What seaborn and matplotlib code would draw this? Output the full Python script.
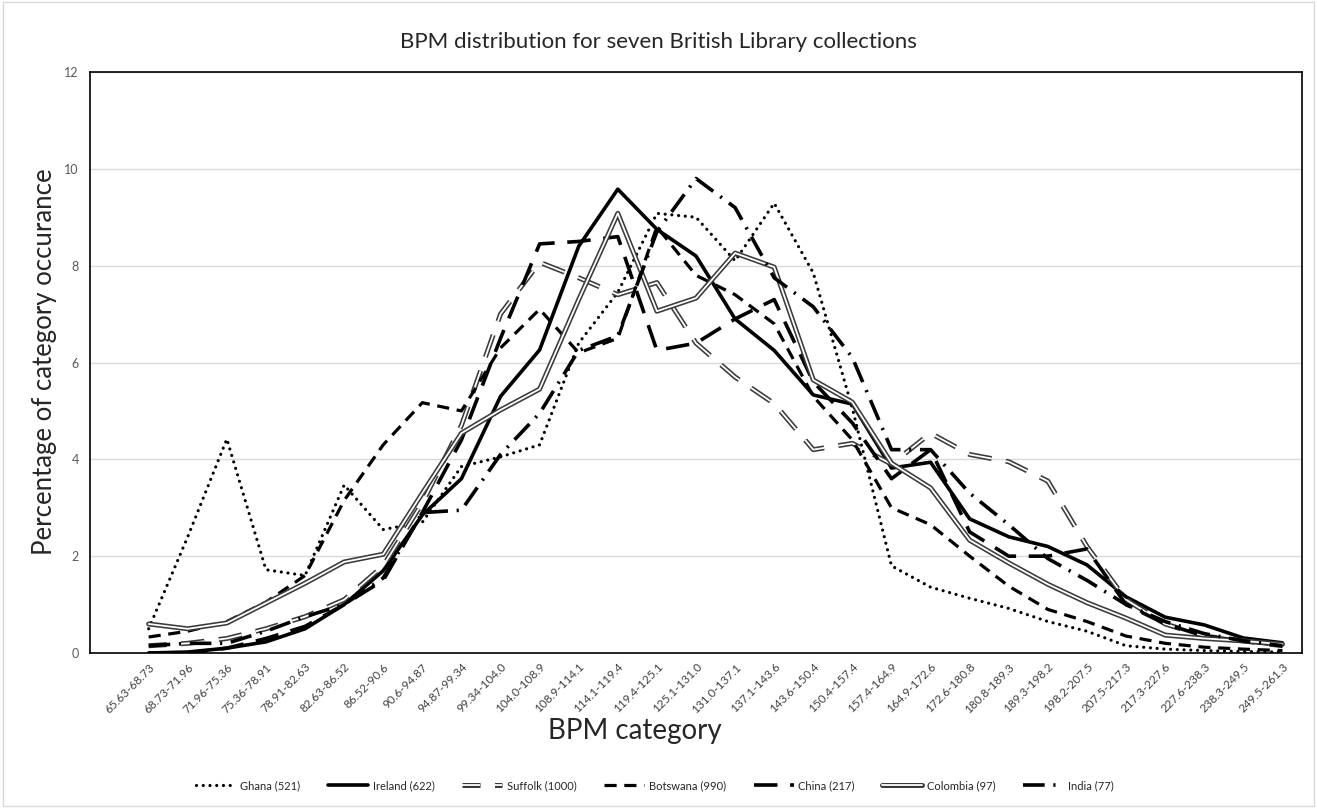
import numpy as np
import matplotlib
matplotlib.use("Agg")
import matplotlib.pyplot as plt
import matplotlib.patheffects as pe
import seaborn as sns

# BPM categories (x axis)
categories = ["65.63-68.73", "68.73-71.96", "71.96-75.36", "75.36-78.91", "78.91-82.63",
              "82.63-86.52", "86.52-90.6", "90.6-94.87", "94.87-99.34", "99.34-104.0",
              "104.0-108.9", "108.9-114.1", "114.1-119.4", "119.4-125.1", "125.1-131.0",
              "131.0-137.1", "137.1-143.6", "143.6-150.4", "150.4-157.4", "157.4-164.9",
              "164.9-172.6", "172.6-180.8", "180.8-189.3", "189.3-198.2", "198.2-207.5",
              "207.5-217.3", "217.3-227.6", "227.6-238.3", "238.3-249.5", "249.5-261.3"]

# percentage of category occurance
ghana = [0.5, 2.4, 4.42, 1.72, 1.6, 3.47, 2.55, 2.7, 3.85, 4.05, 4.3, 6.4, 7.45, 9.08, 9.0,
         8.1, 9.29, 7.85, 5.05, 1.8, 1.36, 1.13, 0.92, 0.65, 0.45, 0.15, 0.08, 0.05, 0.03, 0.02]
ireland = [0.0, 0.02, 0.1, 0.23, 0.5, 1.0, 1.7, 2.85, 3.6, 5.3, 6.26, 8.4, 9.58, 8.75, 8.2,
           6.9, 6.25, 5.33, 5.14, 3.82, 3.94, 2.77, 2.4, 2.2, 1.82, 1.16, 0.74, 0.58, 0.31, 0.21]
suffolk = [0.15, 0.2, 0.3, 0.5, 0.75, 1.1, 1.8, 3.1, 4.7, 7.0, 8.07, 7.75, 7.4, 7.65, 6.4,
           5.7, 5.15, 4.2, 4.33, 3.9, 4.54, 4.1, 3.95, 3.55, 2.2, 1.1, 0.6, 0.35, 0.25, 0.15]
botswana = [0.33, 0.45, 0.65, 1.05, 1.6, 3.15, 4.3, 5.17, 5.0, 6.3, 7.1, 6.2, 6.5, 8.8, 7.8,
            7.4, 6.8, 5.3, 4.4, 3.0, 2.65, 2.0, 1.38, 0.9, 0.65, 0.35, 0.2, 0.12, 0.08, 0.05]
china = [0.0, 0.0, 0.1, 0.3, 0.55, 1.0, 1.5, 2.9, 4.4, 6.5, 8.45, 8.5, 8.6, 6.25, 6.4,
         6.9, 7.3, 5.6, 4.75, 3.6, 4.2, 2.5, 2.0, 2.0, 2.15, 1.0, 0.6, 0.35, 0.25, 0.15]
colombia = [0.6, 0.5, 0.62, 1.03, 1.44, 1.88, 2.04, 3.3, 4.54, 5.02, 5.45, 7.3, 9.08, 7.06, 7.33,
            8.26, 7.97, 5.64, 5.18, 3.92, 3.41, 2.33, 1.86, 1.42, 1.04, 0.72, 0.37, 0.3, 0.25, 0.18]
india = [0.15, 0.2, 0.2, 0.45, 0.75, 1.0, 1.55, 2.9, 2.95, 4.1, 4.95, 6.25, 6.55, 8.7, 9.8,
         9.2, 7.75, 7.15, 6.1, 4.2, 4.2, 3.3, 2.65, 1.95, 1.5, 1.0, 0.65, 0.4, 0.25, 0.15]

x = np.arange(len(categories))

sns.set_style("white")
plt.rcParams['font.family'] = ['Lato', 'DejaVu Sans']

fig = plt.figure(figsize=(13.17, 8.08), dpi=100)
ax = fig.add_axes([90 / 1317, 1 - 653 / 808, 1212 / 1317, 581 / 808])

double = [pe.Stroke(linewidth=3.6, foreground="#3a3a3a"), pe.Normal()]

sns.lineplot(x=x, y=ghana, ax=ax, color="black", linewidth=2.3,
             linestyle=(0, (0.01, 2.1)), dash_capstyle="round", label="Ghana (521)")
sns.lineplot(x=x, y=ireland, ax=ax, color="black", linewidth=2.6, label="Ireland (622)")
sns.lineplot(x=x, y=suffolk, ax=ax, color="white", linewidth=1.3,
             linestyle=(3, (13, 8)), path_effects=double, label="Suffolk (1000)")
sns.lineplot(x=x, y=botswana, ax=ax, color="black", linewidth=2.3,
             linestyle=(0, (3.8, 2.4)), label="Botswana (990)")
sns.lineplot(x=x, y=china, ax=ax, color="black", linewidth=2.6,
             linestyle=(0, (6.5, 3.5)), label="China (217)")
sns.lineplot(x=x, y=colombia, ax=ax, color="white", linewidth=1.3,
             path_effects=double, label="Colombia (97)")
sns.lineplot(x=x, y=india, ax=ax, color="black", linewidth=2.6,
             linestyle=(0, (6, 2.4, 0.6, 2.4)), label="India (77)")

ax.set_xlim(-1.5, 29.5)
ax.set_ylim(0, 12)
ax.set_yticks(range(0, 13, 2))
ax.set_xticks(x)
ax.set_xticklabels(categories, rotation=45, ha="right", rotation_mode="anchor",
                   fontsize=8.5, color="#404040")
ax.tick_params(axis="y", labelsize=9, labelcolor="#595959", length=0, pad=8)
ax.tick_params(axis="x", length=0, pad=6)
ax.grid(axis="y", color="#d9d9d9", linewidth=1)
ax.set_axisbelow(True)
for s in ax.spines.values():
    s.set_color("black")
    s.set_linewidth(1.2)

ax.set_xlabel("BPM category", fontsize=20, va="center")
ax.xaxis.set_label_coords((635 - 90) / 1212, (653 - 731) / 581)
ax.set_ylabel("Percentage of category occurance", fontsize=18.5, va="center")
ax.yaxis.set_label_coords((45 - 90) / 1212, (653 - 362) / 581)
fig.text(0.5, 1 - 42 / 808, "BPM distribution for seven British Library collections",
         fontsize=16, color="#262626", ha="center", va="center")

ax.legend(loc="center", bbox_to_anchor=(0.497, 0.028), bbox_transform=fig.transFigure,
          ncol=7, frameon=False, fontsize=8, handlelength=3.6, columnspacing=2.5,
          handletextpad=0.4)

fig.add_artist(plt.Rectangle((0.002, 0.002), 0.996, 0.996, transform=fig.transFigure,
                             fill=False, edgecolor="#d9d9d9", linewidth=1))

fig.savefig("out.png", dpi=100)
